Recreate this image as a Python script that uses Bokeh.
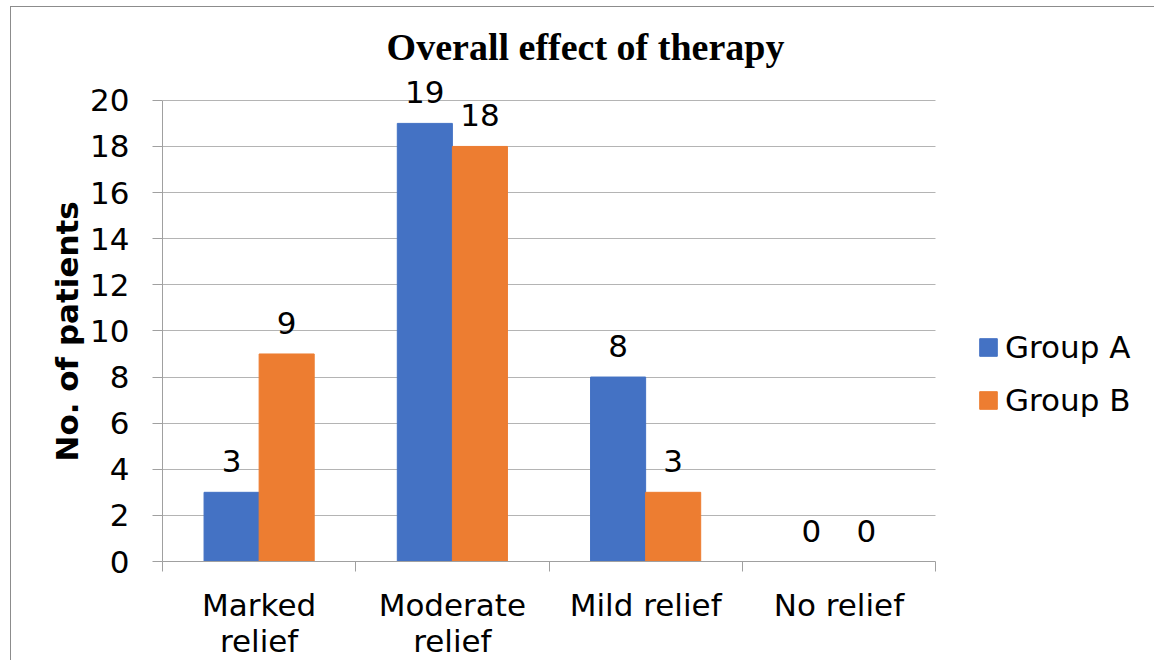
from bokeh.plotting import figure
from bokeh.models import (ColumnDataSource, FixedTicker, Range1d, Legend, LegendItem,
                          LabelSet, Label, Title)
from bokeh.core.properties import value
from bokeh.embed import file_html
from bokeh.resources import INLINE

title_text = "Overall effect of therapy"
y_label = "No. of patients"
categories = ["Marked\nrelief", "Moderate\nrelief", "Mild relief", "No relief"]
group_a = [3, 19, 8, 0]
group_b = [9, 18, 3, 0]
series_names = ["Group A", "Group B"]
colors = ["#4472C4", "#ED7D31"]
y_max = 20
y_step = 2

FONT = "DejaVu Sans"
FS = "31px"
BAR_W = 0.285

# layout (pixels)
W, H = 1144, 654
LEFT = 151            # frame left
Y_TOP_PX = 93         # where y_max sits, from canvas top
Y_ZERO_PX = 555       # where 0 sits, from canvas top
PLOT_W = 773          # width used by the categories
BOTTOM = H - Y_ZERO_PX
n = len(categories)
px_x = PLOT_W / n
px_y = (Y_ZERO_PX - Y_TOP_PX) / y_max
x_end = (W - LEFT) / px_x
y_end = y_max + Y_TOP_PX / px_y

centers = [i + 0.5 for i in range(n)]

p = figure(width=W, height=H, output_backend="svg", toolbar_location=None,
           x_range=Range1d(0, x_end), y_range=Range1d(0, y_end),
           min_border_left=LEFT, min_border_right=0, min_border_top=0,
           min_border_bottom=BOTTOM)
p.styles = {"border-left": "1px solid #8c8c8c", "border-top": "1px solid #8c8c8c",
            "margin-left": "10px", "margin-top": "6px"}
p.outline_line_color = None
p.background_fill_color = "white"
p.border_fill_color = "white"

# chart title (placed in the empty band above the plotting area)
p.add_layout(Label(x=423 / px_x, y=y_max + 53 / px_y, text=title_text,
                   text_align="center", text_baseline="middle",
                   text_font="Liberation Serif", text_font_style="bold",
                   text_font_size="38px", text_color="black"))

renderers = []
for k, (vals, name, col) in enumerate(zip([group_a, group_b], series_names, colors)):
    xs = [c + (k - 0.5) * BAR_W for c in centers]
    src = ColumnDataSource(dict(x=xs, top=vals, lbl=[str(v) for v in vals]))
    r = p.vbar(x="x", top="top", width=BAR_W, source=src, fill_color=col, line_color=col)
    renderers.append((name, r))
    p.add_layout(LabelSet(x="x", y="top", text="lbl", source=src, text_align="center",
                          text_baseline="bottom", y_offset=20, text_font=value(FONT),
                          text_font_size=FS, text_color="black"))

# y axis
p.yaxis.ticker = FixedTicker(ticks=list(range(0, y_max + 1, y_step)), minor_ticks=[])
p.yaxis.bounds = (0, y_max)
p.yaxis.major_label_text_font = FONT
p.yaxis.major_label_text_font_size = FS
p.yaxis.major_label_text_color = "black"
p.yaxis.major_label_standoff = 23
p.yaxis.major_tick_out = 10
p.yaxis.major_tick_in = 0
p.yaxis.axis_line_color = "#a0a0a0"
p.yaxis.major_tick_line_color = "#a0a0a0"

p.add_layout(Title(text=y_label, align="left", offset=100, standoff=5,
                   text_font=FONT, text_font_style="bold", text_font_size=FS,
                   text_color="black"), "left")

# x axis: labels at category centers, ticks at category boundaries
p.xaxis.ticker = FixedTicker(ticks=centers, minor_ticks=list(range(n + 1)))
p.xaxis.bounds = (0, n)
p.xaxis.major_label_overrides = {c: lab for c, lab in zip(centers, categories)}
p.xaxis.major_label_text_font = FONT
p.xaxis.major_label_text_font_size = FS
p.xaxis.major_label_text_line_height = 1.0
p.xaxis.major_label_text_color = "black"
p.xaxis.major_label_standoff = 15
p.xaxis.major_tick_out = 0
p.xaxis.major_tick_in = 0
p.xaxis.minor_tick_out = 10
p.xaxis.minor_tick_in = 0
p.xaxis.minor_tick_line_color = "#a0a0a0"
p.xaxis.axis_line_color = "#a0a0a0"

p.xgrid.grid_line_color = None
p.ygrid.grid_line_color = "#b4b4b4"
p.ygrid.grid_line_width = 1
p.ygrid.cross_bounds = (0, n)

legend = Legend(items=[LegendItem(label=nm, renderers=[r]) for nm, r in renderers],
                location=(815, 143), border_line_color=None, background_fill_alpha=0,
                label_text_font=FONT, label_text_font_size=FS, label_text_color="black",
                glyph_width=22, glyph_height=22, spacing=17, label_standoff=6,
                padding=0, margin=0)
p.add_layout(legend)

open("out.html", "w").write(file_html(p, INLINE))
